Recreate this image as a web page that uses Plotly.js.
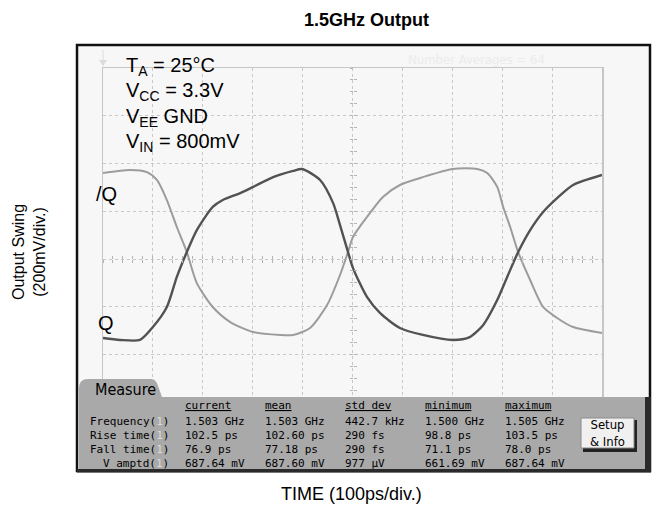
<!DOCTYPE html>
<html><head><meta charset="utf-8">
<script src="https://cdn.plot.ly/plotly-3.0.1.min.js"></script>
<style>html,body{margin:0;padding:0;background:#fff}</style>
</head><body>
<div id="chart" style="width:653px;height:512px"></div>
<script>
// ---- waveform samples: time (ps), level (mV from screen centre)
const tQ = [0, 34, 74, 100, 128, 148, 168, 188, 220, 240, 275, 301, 341, 381, 399, 435, 461, 475, 491, 501, 529, 555, 595, 641, 701, 735, 762, 790, 810, 832, 856, 882, 910, 942, 1000];
const vQ = [-331, -339, -339, -285, -201, -75, 29, 121, 218, 247, 276, 302, 343, 369, 377, 331, 235, 142, 29, -38, -159, -226, -289, -318, -339, -327, -276, -172, -75, 29, 121, 197, 255, 310, 352];
const tQbar = [0, 54, 88, 108, 128, 148, 168, 188, 220, 255, 301, 355, 381, 415, 449, 475, 491, 501, 529, 561, 595, 641, 701, 750, 770, 790, 802, 816, 832, 856, 882, 910, 942, 1000];
const vQbar = [360, 373, 364, 331, 247, 134, 29, -101, -201, -264, -306, -318, -318, -289, -193, -67, 29, 92, 176, 260, 310, 343, 377, 377, 360, 302, 218, 134, 29, -88, -201, -247, -285, -310];

// ---- condition labels
const conditions = ['T<sub>A</sub> = 25°C', 'V<sub>CC</sub> = 3.3V', 'V<sub>EE</sub> GND', 'V<sub>IN</sub> = 800mV'];

// ---- measurement table
const measRows = ['Frequency', 'Rise time', 'Fall time', 'V amptd'];
const colHeaders = ['current', 'mean', 'std dev', 'minimum', 'maximum'];
const colCurrent = ['1.503 GHz', '102.5 ps', '76.9 ps', '687.64 mV'];
const colMean = ['1.503 GHz', '102.60 ps', '77.18 ps', '687.60 mV'];
const colStdDev = ['442.7 kHz', '290 fs', '290 fs', '977 µV'];
const colMinimum = ['1.500 GHz', '98.8 ps', '71.1 ps', '661.69 mV'];
const colMaximum = ['1.505 GHz', '103.5 ps', '78.0 ps', '687.64 mV'];
const columns = [colCurrent, colMean, colStdDev, colMinimum, colMaximum];

// ---- geometry helpers (pixel -> paper)
const W = 653, H = 512;
const M = {l: 103, r: 51, t: 68, b: 62};
const PW = W - M.l - M.r, PH = H - M.t - M.b;
const px = x => (x - M.l) / PW;
const py = y => (H - M.b - y) / PH;
const path = pts => pts.map(p => typeof p === 'string' ? p : px(p[0]).toFixed(5) + ',' + py(p[1]).toFixed(5)).join(' ');

const SANS = 'Liberation Sans, Arial, sans-serif';
const NARROW = 'Liberation Sans Narrow, DejaVu Sans Condensed, Arial Narrow, sans-serif';
const MONO = 'DejaVu Sans Mono, Liberation Mono, monospace';

const traces = [
  {x: tQbar, y: vQbar, mode: 'lines', line: {color: '#9c9c9c', width: 2, shape: 'spline', smoothing: 0.7}, hoverinfo: 'skip', showlegend: false},
  {x: tQ, y: vQ, mode: 'lines', line: {color: '#525252', width: 2.4, shape: 'spline', smoothing: 0.7}, hoverinfo: 'skip', showlegend: false},
  {x: [0], y: [0], xaxis: 'x2', yaxis: 'y2', mode: 'markers', marker: {opacity: 0}, hoverinfo: 'skip', showlegend: false},
  {x: [0], y: [0], xaxis: 'x3', yaxis: 'y3', mode: 'markers', marker: {opacity: 0}, hoverinfo: 'skip', showlegend: false}
];

const baseX = {range: [0, 1000], dtick: 100, tick0: 0, showticklabels: false, ticks: '', zeroline: false, fixedrange: true};
const baseY = {range: [-800, 800], dtick: 200, tick0: -800, showticklabels: false, ticks: '', zeroline: false, fixedrange: true};
const centreX = (dir) => Object.assign({}, baseX, {overlaying: 'x', anchor: 'free', position: 0.5, showgrid: false, showline: false, ticks: dir, ticklen: 3, tickwidth: 1, tickcolor: '#b4b4b4', dtick: 20});
const centreY = (dir) => Object.assign({}, baseY, {overlaying: 'y', anchor: 'free', position: 0.5, showgrid: false, showline: false, ticks: dir, ticklen: 3, tickwidth: 1, tickcolor: '#b4b4b4', dtick: 50});

const shapes = [
  // scope screen frame
  {type: 'rect', xref: 'paper', yref: 'paper', x0: px(77), x1: px(650), y0: py(471), y1: py(45), fillcolor: '#f7f7f7', line: {color: '#111', width: 2.5}, layer: 'below'},
  // faint trigger marker above the graticule
  {type: 'line', xref: 'paper', yref: 'paper', x0: px(103), x1: px(103), y0: py(66), y1: py(50), line: {color: '#dcdcdc', width: 1}},
  {type: 'path', xref: 'paper', yref: 'paper', fillcolor: '#dcdcdc', line: {width: 0}, path: 'M ' + path([[99, 60], 'L', [107, 60], 'L', [103, 66]]) + ' Z'},
  // measure panel with tab
  {type: 'path', xref: 'paper', yref: 'paper', layer: 'above', fillcolor: '#a9a9a9', line: {width: 0},
   path: 'M ' + path([[79, 470], 'L', [79, 388], 'Q', [79, 379], [88, 379], 'L', [151, 379], 'Q', [156, 379], [158, 386], 'L', [162, 397], 'L', [646, 397], 'L', [646, 470]]) + ' Z'},
  // panel shadow right/bottom
  {type: 'rect', xref: 'paper', yref: 'paper', layer: 'above', x0: px(645), x1: px(651), y0: py(472), y1: py(397), fillcolor: '#2a2a2a', line: {width: 0}},
  {type: 'rect', xref: 'paper', yref: 'paper', layer: 'above', x0: px(77), x1: px(651), y0: py(472.5), y1: py(469), fillcolor: '#2a2a2a', line: {width: 0}},
  // setup button
  {type: 'rect', xref: 'paper', yref: 'paper', layer: 'above', x0: px(583), x1: px(637), y0: py(452), y1: py(420), fillcolor: '#222', line: {width: 0}},
  {type: 'rect', xref: 'paper', yref: 'paper', layer: 'above', x0: px(581), x1: px(634), y0: py(448), y1: py(418), fillcolor: '#f0f0f0', line: {color: '#8a8a8a', width: 1}}
];

const annotations = [];
const ann = (o) => annotations.push(Object.assign({xref: 'paper', yref: 'paper', showarrow: false}, o));

ann({x: px(366), y: py(20), text: '<b>1.5GHz Output</b>', font: {family: SANS, size: 18, color: '#000'}, xanchor: 'center', yanchor: 'middle'});
ann({x: px(29), y: py(252), text: 'Output Swing<br>(200mV/div.)', textangle: -90, font: {family: SANS, size: 16, color: '#000'}, xanchor: 'center', yanchor: 'middle'});
ann({x: px(351), y: py(494), text: 'TIME (100ps/div.)', font: {family: SANS, size: 18, color: '#000'}, xanchor: 'center', yanchor: 'middle'});
ann({x: px(476), y: py(60), text: 'Number Averages = 64', font: {family: NARROW, size: 13, color: '#ebebeb'}, xanchor: 'center', yanchor: 'middle'});

conditions.forEach((c, i) => ann({x: px(124), y: py(67 + 25 * i), text: c, font: {family: SANS, size: 20, color: '#000'}, xanchor: 'left', yanchor: 'middle'}));
ann({x: px(94), y: py(194), text: '/Q', font: {family: SANS, size: 20, color: '#000'}, xanchor: 'left', yanchor: 'middle'});
ann({x: px(96), y: py(323), text: 'Q', font: {family: SANS, size: 20, color: '#000'}, xanchor: 'left', yanchor: 'middle'});

ann({x: px(93), y: py(389), text: 'Measure', font: {family: NARROW, size: 16, color: '#000'}, xanchor: 'left', yanchor: 'middle'});
const colX = [183, 263, 343, 423, 503];
const labelRight = 171;
const headY = 405, rowY0 = 421, rowDY = 14;
colHeaders.forEach((h, j) => ann({x: px(colX[j]), y: py(headY), text: '<u>' + h + '</u>', font: {family: MONO, size: 11, color: '#000'}, xanchor: 'left', yanchor: 'middle'}));
measRows.forEach((r, i) => {
  const yy = py(rowY0 + rowDY * i);
  ann({x: px(labelRight), y: yy, text: r + '(<span style="color:#dadada">1</span>)', font: {family: MONO, size: 11, color: '#000'}, xanchor: 'right', yanchor: 'middle'});
  columns.forEach((col, j) => ann({x: px(colX[j]), y: yy, text: col[i], font: {family: MONO, size: 11, color: '#000'}, xanchor: 'left', yanchor: 'middle'}));
});
ann({x: px(607), y: py(433), text: 'Setup<br>& Info', font: {family: NARROW, size: 13, color: '#000'}, xanchor: 'center', yanchor: 'middle'});

const layout = {
  width: W, height: H, autosize: false,
  margin: {l: M.l, r: M.r, t: M.t, b: M.b, pad: 0},
  paper_bgcolor: '#ffffff', plot_bgcolor: 'rgba(0,0,0,0)',
  showlegend: false,
  xaxis: Object.assign({}, baseX, {showgrid: true, gridcolor: '#c8c8c8', griddash: 'dot', gridwidth: 1, showline: true, mirror: true, linecolor: '#c6c6c6', linewidth: 1.5}),
  yaxis: Object.assign({}, baseY, {showgrid: true, gridcolor: '#c8c8c8', griddash: 'dot', gridwidth: 1, showline: true, mirror: true, linecolor: '#c6c6c6', linewidth: 1.5}),
  xaxis2: centreX('outside'), yaxis2: centreY('outside'),
  xaxis3: centreX('inside'), yaxis3: centreY('inside'),
  shapes: shapes, annotations: annotations
};

Plotly.newPlot('chart', traces, layout, {staticPlot: true, displayModeBar: false});
</script>
</body></html>
